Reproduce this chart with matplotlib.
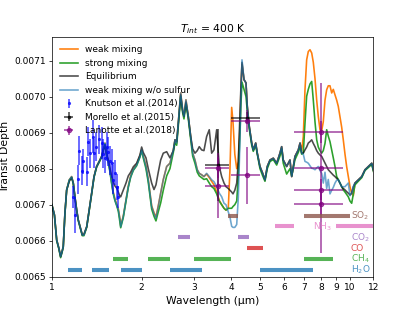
#!/usr/bin/env python3
import matplotlib
matplotlib.use("Agg")
import matplotlib.pyplot as plt
import numpy as np
from matplotlib.ticker import FixedLocator, FixedFormatter, NullLocator, FormatStrFormatter

# model spectra, transit depth in ppm
wavelength = [
    1.000, 1.020, 1.038, 1.055, 1.070, 1.082, 1.092, 1.106, 1.121, 1.144,
    1.165, 1.180, 1.195, 1.211, 1.226, 1.243, 1.265, 1.281, 1.309, 1.335,
    1.360, 1.385, 1.413, 1.442, 1.469, 1.488, 1.507, 1.527, 1.546, 1.567,
    1.587, 1.607, 1.628, 1.650, 1.671, 1.693, 1.702, 1.736, 1.773, 1.805,
    1.838, 1.876, 1.925, 1.975, 2.001, 2.026, 2.069, 2.106, 2.134, 2.162,
    2.201, 2.235, 2.275, 2.318, 2.365, 2.428, 2.490, 2.556, 2.589, 2.623,
    2.656, 2.705, 2.747, 2.775, 2.818, 2.869, 2.923, 2.968, 3.021, 3.075,
    3.123, 3.181, 3.238, 3.306, 3.374, 3.437, 3.499, 3.573, 3.645, 3.714,
    3.781, 3.839, 3.908, 3.960, 4.012, 4.053, 4.110, 4.171, 4.223, 4.278,
    4.310, 4.345, 4.413, 4.481, 4.526, 4.597, 4.684, 4.741, 4.830, 4.890,
    4.992, 5.098, 5.189, 5.282, 5.394, 5.534, 5.680, 5.826, 5.903, 5.976,
    6.135, 6.295, 6.379, 6.543, 6.713, 6.803, 6.892, 6.977, 7.069, 7.161,
    7.252, 7.348, 7.445, 7.538, 7.637, 7.738, 7.834, 7.938, 8.043, 8.142,
    8.251, 8.359, 8.464, 8.575, 8.689, 8.797, 8.913, 9.030, 9.142, 9.262,
    9.386, 9.503, 9.630, 9.757, 9.877, 10.01, 10.14, 10.27, 10.40, 10.67,
    10.96, 11.24, 11.53, 11.84, 12.00,
]

weak = [
    6700, 6672, 6602, 6580, 6556, 6570, 6584, 6676, 6741, 6769,
    6778, 6760, 6722, 6686, 6658, 6639, 6616, 6616, 6639, 6686,
    6732, 6778, 6806, 6820, 6834, 6852, 6871, 6838, 6822, 6795,
    6763, 6735, 6716, 6702, 6688, 6660, 6642, 6668, 6714, 6752,
    6780, 6798, 6812, 6836, 6852, 6835, 6808, 6770, 6734, 6697,
    6678, 6666, 6697, 6733, 6770, 6806, 6815, 6852, 6880, 6871,
    6926, 7010, 6963, 6945, 6991, 6945, 6889, 6843, 6824, 6797,
    6787, 6783, 6778, 6785, 6775, 6765, 6755, 6735, 6712, 6700,
    6690, 6685, 6690, 6800, 6970, 6930, 6840, 6800, 6820, 6920,
    7020, 7090, 7047, 7038, 6973, 6917, 6871, 6852, 6871, 6843,
    6806, 6787, 6769, 6806, 6824, 6829, 6815, 6843, 6861, 6824,
    6806, 6824, 6778, 6834, 6852, 6871, 6850, 6889, 7019, 7102,
    7125, 7130, 7121, 7095, 7050, 6990, 6945, 6908, 6905, 6930,
    6990, 7019, 7030, 7030, 7010, 7020, 7005, 6990, 6973, 6945,
    6915, 6880, 6840, 6805, 6778, 6750, 6732, 6725, 6760, 6769,
    6778, 6797, 6806, 6815, 6795,
]

strong = [
    6700, 6670, 6600, 6578, 6553, 6568, 6582, 6674, 6740, 6768,
    6776, 6758, 6720, 6684, 6656, 6637, 6614, 6614, 6637, 6684,
    6730, 6776, 6804, 6818, 6832, 6850, 6869, 6836, 6818, 6790,
    6758, 6730, 6711, 6697, 6682, 6650, 6636, 6664, 6710, 6748,
    6776, 6795, 6808, 6832, 6850, 6830, 6800, 6762, 6725, 6688,
    6668, 6655, 6680, 6705, 6740, 6780, 6800, 6845, 6872, 6865,
    6918, 7000, 6955, 6938, 6980, 6938, 6880, 6835, 6815, 6790,
    6780, 6775, 6770, 6772, 6760, 6750, 6745, 6730, 6710, 6700,
    6690, 6685, 6690, 6690, 6690, 6695, 6700, 6710, 6780, 6900,
    6980, 7040, 7020, 7000, 6960, 6910, 6865, 6848, 6865, 6840,
    6800, 6780, 6765, 6800, 6820, 6825, 6810, 6835, 6855, 6815,
    6785, 6800, 6780, 6825, 6845, 6860, 6840, 6843, 6926, 7001,
    7020, 7035, 7042, 6990, 6930, 6880, 6860, 6850, 6843, 6850,
    6870, 6908, 6890, 6875, 6852, 6830, 6806, 6778, 6770, 6760,
    6750, 6741, 6735, 6728, 6722, 6710, 6704, 6730, 6755, 6765,
    6775, 6795, 6803, 6812, 6792,
]

equilibrium = [
    6700, 6672, 6602, 6580, 6556, 6570, 6584, 6676, 6741, 6765,
    6775, 6760, 6722, 6686, 6658, 6639, 6616, 6618, 6639, 6686,
    6732, 6778, 6806, 6820, 6834, 6852, 6865, 6840, 6825, 6800,
    6780, 6762, 6752, 6746, 6735, 6722, 6722, 6740, 6760, 6780,
    6790, 6805, 6815, 6838, 6860, 6845, 6830, 6800, 6780, 6760,
    6742, 6755, 6790, 6824, 6843, 6847, 6830, 6850, 6880, 6875,
    6926, 7005, 6960, 6945, 6985, 6945, 6890, 6855, 6843, 6850,
    6861, 6852, 6850, 6889, 6908, 6843, 6852, 6908, 6806, 6778,
    6760, 6750, 6745, 6740, 6735, 6730, 6740, 6760, 6820, 6950,
    7030, 7095, 7047, 7038, 6973, 6917, 6871, 6852, 6871, 6843,
    6806, 6787, 6769, 6806, 6824, 6829, 6815, 6843, 6861, 6824,
    6806, 6824, 6778, 6834, 6852, 6871, 6843, 6843, 6852, 6860,
    6871, 6875, 6880, 6870, 6861, 6850, 6843, 6838, 6834, 6825,
    6815, 6806, 6797, 6792, 6787, 6782, 6778, 6773, 6769, 6760,
    6750, 6745, 6741, 6736, 6732, 6727, 6732, 6750, 6760, 6769,
    6778, 6797, 6806, 6815, 6795,
]

no_sulfur = [
    6700, 6672, 6602, 6580, 6556, 6570, 6584, 6676, 6741, 6769,
    6778, 6760, 6722, 6686, 6658, 6639, 6616, 6616, 6639, 6686,
    6732, 6778, 6806, 6820, 6834, 6852, 6871, 6838, 6820, 6792,
    6760, 6732, 6713, 6699, 6686, 6658, 6639, 6667, 6713, 6750,
    6778, 6797, 6810, 6834, 6852, 6834, 6806, 6769, 6732, 6695,
    6676, 6663, 6695, 6732, 6769, 6806, 6815, 6852, 6880, 6871,
    6926, 7010, 6963, 6945, 6991, 6945, 6889, 6843, 6824, 6797,
    6787, 6783, 6778, 6787, 6778, 6769, 6764, 6750, 6732, 6722,
    6704, 6700, 6680, 6665, 6640, 6637, 6637, 6645, 6720, 6880,
    7000, 7102, 7047, 7038, 6973, 6917, 6871, 6852, 6871, 6843,
    6806, 6787, 6769, 6806, 6824, 6829, 6815, 6843, 6861, 6824,
    6806, 6824, 6778, 6834, 6852, 6871, 6843, 6840, 6820, 6818,
    6815, 6808, 6801, 6800, 6797, 6802, 6806, 6795, 6787, 6760,
    6790, 6745, 6770, 6730, 6740, 6748, 6760, 6768, 6769, 6760,
    6750, 6750, 6750, 6755, 6760, 6725, 6732, 6750, 6760, 6769,
    6778, 6797, 6806, 6815, 6795,
]

# observations (ppm)
knutson_wl = [1.180, 1.195, 1.220, 1.236, 1.259, 1.275, 1.309, 1.325, 1.342, 1.370,
              1.388, 1.406, 1.442, 1.469, 1.488, 1.507, 1.527, 1.546, 1.567, 1.587,
              1.607, 1.628, 1.650, 1.662]
knutson_depth = [6721, 6672, 6771, 6850, 6794, 6820, 6792, 6875, 6843, 6889,
                 6843, 6861, 6882, 6871, 6841, 6829, 6861, 6847, 6822, 6815,
                 6769, 6789, 6749, 6722]
knutson_err = [30, 50, 40, 40, 40, 35, 40, 40, 40, 45,
               40, 40, 40, 45, 40, 40, 40, 40, 40, 40,
               40, 35, 35, 30]

morello_wl = [3.6, 4.5]
morello_depth = [6811, 6941]
morello_err = [100, 15]
morello_xerr = [0.33, 0.5]

lanotte_wl = [3.6, 3.6, 4.5, 4.5, 8.0, 8.0, 8.0, 8.0]
lanotte_depth = [6803, 6753, 6933, 6781, 6901, 6802, 6742, 6702]
lanotte_err = [30, 90, 30, 80, 30, 235, 30, 30]
lanotte_xerr = [0.33, 0.33, 0.5, 0.5, 1.5, 1.5, 1.5, 1.5]

# absorption bands (microns)
bands = {
    "H$_2$O": ("tab:blue", 0.00652, [(1.13, 1.26), (1.36, 1.56), (1.71, 2.0), (2.5, 3.2), (5.0, 7.5)]),
    "CH$_4$": ("tab:green", 0.00655, [(1.6, 1.8), (2.1, 2.5), (3.0, 4.0), (7.0, 8.8)]),
    "CO": ("tab:red", 0.00658, [(4.5, 5.1)]),
    "CO$_2$": ("tab:purple", 0.00661, [(2.65, 2.9), (4.2, 4.6)]),
    "NH$_3$": ("tab:pink", 0.00664, [(5.6, 6.5), (9.0, 12.5)]),
    "SO$_2$": ("tab:brown", 0.00667, [(3.9, 4.2), (7.0, 10.0)]),
}

xticks = [1, 2, 3, 4, 5, 6, 7, 8, 9, 10, 12]
yticks = [0.0065, 0.0066, 0.0067, 0.0068, 0.0069, 0.0070, 0.0071]

ppm = 1e-6
wl = np.array(wavelength)

fig, ax = plt.subplots(figsize=(6.4, 4.8), dpi=64.84)

ax.plot(wl, np.array(weak) * ppm, color="tab:orange", lw=1.8, label="weak mixing")
ax.plot(wl, np.array(strong) * ppm, color="tab:green", lw=1.8, label="strong mixing")
ax.plot(wl, np.array(equilibrium) * ppm, color="k", alpha=0.7, lw=1.8, label="Equilibrium")
ax.plot(wl, np.array(no_sulfur) * ppm, color="tab:blue", alpha=0.65, lw=1.8,
        label="weak mixing w/o sulfur")

ax.errorbar(knutson_wl, np.array(knutson_depth) * ppm, yerr=np.array(knutson_err) * ppm,
            fmt=".", color="blue", alpha=0.7, ms=5, elinewidth=1.8,
            label="Knutson et al.(2014)")
ax.errorbar(morello_wl, np.array(morello_depth) * ppm, yerr=np.array(morello_err) * ppm,
            xerr=morello_xerr, fmt=".", color="k", alpha=0.7, ms=6, elinewidth=1.8,
            label="Morello et al.(2015)")
ax.errorbar(lanotte_wl, np.array(lanotte_depth) * ppm, yerr=np.array(lanotte_err) * ppm,
            xerr=lanotte_xerr, fmt="o", color="purple", alpha=0.7, ms=5, elinewidth=1.8,
            label="Lanotte et al.(2018)")

for name, (col, y, ranges) in bands.items():
    for lo, hi in ranges:
        ax.plot([lo, hi], [y, y], color=col, lw=4.5, alpha=0.8, solid_capstyle="butt")
    if name == "NH$_3$":
        ax.text(7.5, y, name, color=col, alpha=0.8, va="center", ha="left", fontsize=10)
    else:
        ax.text(10.05, y, name, color=col, alpha=0.8, va="center", ha="left", fontsize=10)

ax.set_xscale("log")
ax.set_xlim(1, 12)
ax.set_ylim(0.0065, 0.007165)
ax.xaxis.set_major_locator(FixedLocator(xticks))
ax.xaxis.set_major_formatter(FixedFormatter([str(t) for t in xticks]))
ax.xaxis.set_minor_locator(NullLocator())
ax.set_yticks(yticks)
ax.yaxis.set_major_formatter(FormatStrFormatter("%.4f"))

ax.set_xlabel("Wavelength (μm)", fontsize=12)
ax.set_ylabel("Transit Depth", fontsize=12)
ax.set_title(r"$T_{int}$ = 400 K", fontsize=12)
ax.legend(loc="upper left", frameon=False)

plt.savefig("out.png", dpi=64.84)
